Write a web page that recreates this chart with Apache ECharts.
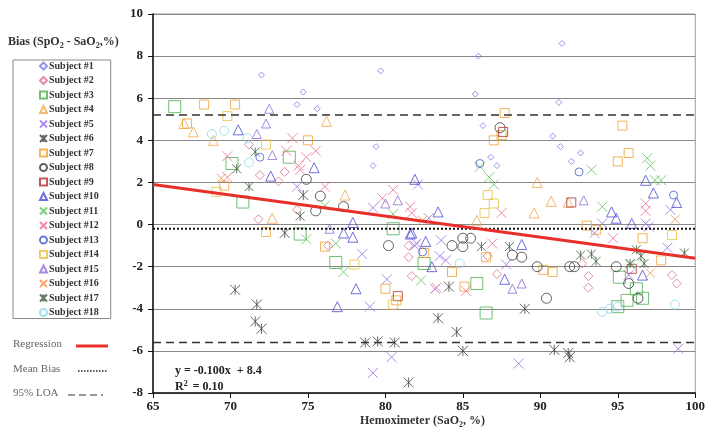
<!DOCTYPE html>
<html>
<head>
<meta charset="utf-8">
<script src="https://cdn.jsdelivr.net/npm/echarts@6/dist/echarts.min.js"></script>
<style>
  html, body { margin: 0; padding: 0; background: #fff; }
  #chart { width: 708px; height: 436px; }
</style>
</head>
<body>
<div id="chart"></div>
<script>
// values: [SaO2, bias]
const subject1 = [[72.0,7.1],[79.7,7.3],[74.7,6.3],[74.3,5.7],[75.6,5.5],[79.4,3.7],[79.2,2.8],[86.0,8.0],[91.4,8.6],[85.8,6.2],[91.2,5.8],[86.3,4.7],[90.8,4.2],[91.3,3.7],[86.8,3.2],[87.2,2.8],[92.0,3.0],[92.6,3.4]];
const subject2 = [[71.2,3.8],[71.9,2.35],[73.1,2.05],[73.5,2.5],[74.3,0.7],[71.8,0.25],[81.7,-2.45],[81.5,-1.0],[81.5,-1.55],[86.6,-1.5],[87.2,-2.35],[92.7,-1.85],[93.1,-2.45],[93.1,-3.0],[98.5,-2.4],[98.8,-2.8],[76.3,-1.0]];
const subject3 = [[66.4,5.6],[70.1,2.9],[70.8,1.07],[73.8,3.2],[74.5,-0.45],[76.8,-1.8],[82.5,-1.85],[85.9,-2.8],[86.5,-4.2],[95.1,-2.5],[95.6,-3.6],[96.2,-3.05],[96.6,-3.5],[95.0,-3.9],[80.5,-0.2]];
const subject4 = [[67.6,4.4],[68.9,4.0],[72.7,0.3],[76.2,4.9],[77.4,1.4],[85.9,0.2],[89.8,2.0],[90.7,1.1],[89.6,0.55],[91.8,1.05],[67.0,4.8]];
const subject5 = [[74.3,1.8],[79.2,0.8],[82.1,1.9],[82.8,0.3],[81.9,-1.0],[83.6,-0.75],[83.5,-1.5],[83.9,-1.7],[78.5,-1.4],[80.1,-2.6],[83.2,-3.05],[79.0,-3.9],[87.8,-1.9],[79.2,-7.05],[80.4,-6.3],[88.6,-6.6],[98.9,-5.9],[94.0,0.05],[96.8,0.05],[97.0,-0.1],[98.4,0.7],[93.5,-0.4],[95.7,-2.4],[98.2,-1.1],[82.0,-0.9]];
const subject6 = [[70.3,-3.1],[71.7,-3.8],[71.6,-4.6],[72.0,-4.95],[78.7,-5.6],[79.5,-5.55],[80.6,-5.6],[81.5,-7.5],[84.1,-2.95],[83.4,-4.45],[84.6,-5.1],[85.0,-6.0],[89.0,-4.0],[90.9,-5.95],[91.8,-6.1],[91.9,-6.3],[74.7,1.4],[73.5,-0.4]];
const subject7 = [[68.3,5.7],[70.3,5.7],[67.2,4.8],[75.0,4.0],[69.6,1.85],[72.3,-0.35],[80.7,-3.6],[87.0,4.0],[87.5,4.25],[87.7,5.3],[95.3,4.7],[95.0,3.0],[95.7,3.4],[93.0,-0.05],[93.6,-0.25],[76.1,-1.05],[80.0,-3.05],[82.5,-1.35],[84.3,-2.25],[85.1,-2.95],[86.5,-1.55],[90.2,-2.15],[90.8,-2.25],[96.6,-0.65],[97.8,-1.7]];
const subject8 = [[74.9,2.15],[75.8,1.35],[75.5,0.65],[77.3,0.85],[80.2,-1.0],[84.3,-1.0],[85.0,-1.05],[85.0,-0.65],[85.5,-0.65],[88.2,-1.45],[88.8,-1.55],[89.8,-2.0],[91.9,-2.0],[92.2,-2.0],[90.4,-3.5],[94.9,-2.0],[95.7,-2.8],[96.3,-3.5],[87.4,4.6]];
const subject9 = [[87.6,4.4],[92.0,1.05],[80.8,-3.4],[95.9,-2.1]];
const subject10 = [[70.5,4.5],[72.6,2.3],[75.4,2.7],[77.9,0.1],[77.3,-0.4],[77.9,-0.6],[76.9,-3.9],[78.1,-3.05],[81.9,2.15],[83.4,0.6],[81.6,-0.45],[82.6,-0.8],[83.0,-2.0],[87.7,-2.6],[88.8,-0.95],[94.6,0.6],[94.9,0.3],[95.9,0.05],[96.8,2.1],[97.3,1.5],[98.8,1.05],[96.6,-2.4],[81.7,-0.4]];
const subject11 = [[76.1,0.9],[74.9,-0.7],[76.8,-0.9],[77.3,-2.25],[80.5,0.5],[82.3,-2.65],[86.1,2.75],[86.7,2.25],[87.0,1.9],[93.3,2.6],[96.9,3.15],[97.1,2.8],[97.4,2.1],[97.8,2.1],[94.0,0.85],[95.8,-1.9]];
const subject12 = [[74.0,4.1],[73.6,3.5],[75.5,3.5],[74.9,3.2],[69.8,3.25],[69.8,2.25],[74.5,2.6],[74.4,2.8],[76.1,1.8],[80.5,1.65],[79.8,1.25],[81.6,0.85],[81.7,0.55],[87.5,0.55],[86.9,-0.9],[85.2,-3.15],[96.8,1.0],[96.8,0.65],[94.7,-0.65],[83.3,-3.0]];
const subject13 = [[71.9,3.2],[82.4,-1.3],[86.1,2.9],[92.5,2.5],[98.6,1.4]];
const subject14 = [[69.8,5.15],[72.3,3.8],[69.1,1.55],[78.0,-1.9],[86.6,1.4],[87.0,1.0],[86.4,0.55],[98.5,-0.5],[80.5,-3.8]];
const subject15 = [[72.5,5.5],[72.3,4.8],[71.7,4.3],[72.7,3.3],[80.0,1.0],[80.8,1.15],[88.2,-3.05],[88.8,-2.8],[92.8,1.15],[76.4,-0.2]];
const subject16 = [[82.4,0.2],[98.7,0.25],[97.1,-2.3],[69.4,2.2]];
const subject17 = [[71.6,3.45],[70.4,2.65],[71.2,1.8],[74.5,0.4],[86.2,-1.05],[88.0,-1.05],[92.6,-1.45],[93.3,-1.4],[93.6,-1.75],[96.2,-1.2],[95.8,-1.85],[96.7,-1.85],[99.3,-1.35],[96.5,-1.5]];
const subject18 = [[68.8,4.3],[69.6,4.45],[71.1,4.1],[71.2,2.95],[84.8,-1.85],[94.0,-4.15],[95.0,-3.9],[98.7,-3.8],[94.5,-4.0]];

const regSlope = -0.100;
const regIntercept = 8.4;
const meanBias = -0.2;
const loaUpper = 5.2;
const loaLower = -5.6;
const xRange = [65, 100];

const subjects = [subject1, subject2, subject3, subject4, subject5, subject6, subject7, subject8, subject9,
  subject10, subject11, subject12, subject13, subject14, subject15, subject16, subject17, subject18];

const X = 'path://M0,0L10,10M10,0L0,10';
const STAR = 'path://M0,0L10,10M10,0L0,10M5,0L5,10';
const shapes = ['diamond', 'diamond', 'rect', 'triangle', X, STAR, 'rect', 'circle', 'rect',
  'triangle', X, X, 'circle', 'rect', 'triangle', X, STAR, 'circle'];
const colors = ['#7a7ae6', '#e0708a', '#4caf50', '#f0a848', '#9a6ee8', '#404040', '#f0a030', '#3a3a3a', '#b03030',
  '#4a4ad8', '#5cc45c', '#ee6f8f', '#4a5ac8', '#e8c040', '#8c6cd8', '#f09048', '#3c5a3c', '#8fd8ec'];
const sizes = [6, 9, 12, 10, 10, 10, 9, 10, 9, 10, 10, 10, 8, 9, 9, 9, 9, 9];

const serif = '"Liberation Serif", "DejaVu Serif", serif';
const chart = echarts.init(document.getElementById('chart'));

const scatterSeries = subjects.map((pts, i) => ({
  name: 'Subject #' + (i + 1),
  type: 'scatter',
  data: pts,
  symbol: shapes[i],
  symbolSize: sizes[i],
  itemStyle: { color: 'transparent', borderColor: colors[i], borderWidth: 1 },
  emphasis: { disabled: true },
  silent: true
}));

function flatLine(v, style) {
  return {
    type: 'line',
    data: xRange.map(x => [x, v]),
    symbol: 'none',
    silent: true,
    lineStyle: style
  };
}

chart.setOption({
  animation: false,
  grid: { left: 153, right: 12, top: 14, bottom: 43, show: true, borderColor: '#999', borderWidth: 1 },
  xAxis: {
    type: 'value', min: 65, max: 100, interval: 5,
    axisLine: { onZero: false, lineStyle: { color: '#111', width: 1.5 } },
    axisTick: { show: true, length: 5, lineStyle: { color: '#111' } },
    axisLabel: { fontFamily: serif, fontWeight: 'bold', fontSize: 13, color: '#222', margin: 7 },
    splitLine: { show: false }
  },
  yAxis: {
    type: 'value', min: -8, max: 10, interval: 2,
    axisLine: { show: true, onZero: false, lineStyle: { color: '#111', width: 1.5 } },
    axisTick: { show: true, length: 5, lineStyle: { color: '#111' } },
    axisLabel: { fontFamily: serif, fontWeight: 'bold', fontSize: 13, color: '#222', margin: 10 },
    splitLine: { show: true, lineStyle: { color: '#888', width: 1 } }
  },
  legend: {
    data: scatterSeries.map(s => s.name),
    orient: 'vertical',
    left: 13, top: 60,
    padding: [0, 12, 0, 26],
    itemWidth: 7, itemHeight: 7, itemGap: 2.5,
    borderColor: '#888', borderWidth: 1,
    selectedMode: false,
    textStyle: { fontFamily: serif, fontWeight: 'bold', fontSize: 10, color: '#333', lineHeight: 12, padding: [0, 0, 0, -3] }
  },
  series: [
    ...scatterSeries,
    flatLine(meanBias, { color: '#111', width: 2, type: [2, 2] }),
    flatLine(loaUpper, { color: '#333', width: 1.5, type: [8, 5] }),
    flatLine(loaLower, { color: '#333', width: 1.5, type: [8, 5] }),
    {
      type: 'line',
      data: xRange.map(x => [x, regSlope * x + regIntercept]),
      symbol: 'none',
      silent: true,
      lineStyle: { color: '#e8302a', width: 3 }
    }
  ],
  graphic: [
    {
      type: 'text', left: 8, top: 36,
      style: {
        text: '{a|Bias (SpO}{s|2}{a| - SaO}{s|2}{a|,%)}',
        rich: {
          a: { fontFamily: serif, fontWeight: 'bold', fontSize: 12, fill: '#333', lineHeight: 16, verticalAlign: 'middle' },
          s: { fontFamily: serif, fontWeight: 'bold', fontSize: 8, fill: '#333', lineHeight: 16, verticalAlign: 'bottom', padding: [6, 0, 0, 0] }
        }
      }
    },
    {
      type: 'text', left: 360, top: 415,
      style: {
        text: '{a|Hemoximeter (SaO}{s|2}{a|, %)}',
        rich: {
          a: { fontFamily: serif, fontWeight: 'bold', fontSize: 12, fill: '#333', lineHeight: 16, verticalAlign: 'middle' },
          s: { fontFamily: serif, fontWeight: 'bold', fontSize: 8, fill: '#333', lineHeight: 16, verticalAlign: 'bottom', padding: [6, 0, 0, 0] }
        }
      }
    },
    {
      type: 'text', left: 175, top: 365,
      style: { text: 'y = -0.100x  + 8.4', font: 'bold 12px ' + serif, fill: '#222' }
    },
    {
      type: 'text', left: 175, top: 380,
      style: {
        text: '{a|R}{p|2}{a| = 0.10}',
        rich: {
          a: { fontFamily: serif, fontWeight: 'bold', fontSize: 12, fill: '#222' },
          p: { fontFamily: serif, fontWeight: 'bold', fontSize: 8, fill: '#222', verticalAlign: 'top', padding: [0, 2, 6, 0] }
        }
      }
    },
    { type: 'text', left: 13, top: 339, style: { text: 'Regression', font: '11px ' + serif, fill: '#666' } },
    { type: 'line', shape: { x1: 76, y1: 346, x2: 108, y2: 346 }, style: { stroke: '#e8302a', lineWidth: 3 } },
    { type: 'text', left: 13, top: 364, style: { text: 'Mean Bias', font: '11px ' + serif, fill: '#666' } },
    { type: 'line', shape: { x1: 78, y1: 371, x2: 108, y2: 371 }, style: { stroke: '#222', lineWidth: 1.5, lineDash: [1.5, 1.5] } },
    { type: 'text', left: 13, top: 388, style: { text: '95% LOA', font: '11px ' + serif, fill: '#666' } },
    { type: 'line', shape: { x1: 68, y1: 395, x2: 103, y2: 395 }, style: { stroke: '#333', lineWidth: 1.2, lineDash: [7, 4] } }
  ]
});
</script>
</body>
</html>
